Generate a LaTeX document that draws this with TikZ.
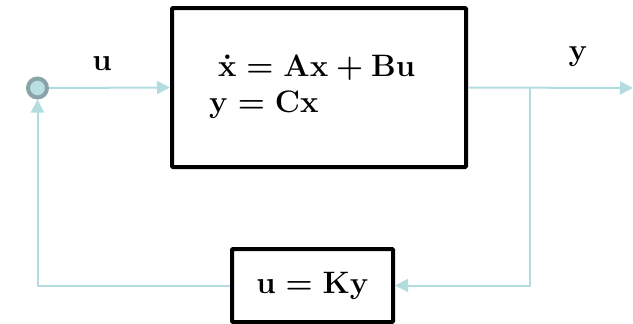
\RequirePackage{fix-cm}
\documentclass[tikz,border=0pt]{standalone}
\usetikzlibrary{arrows.meta}
\definecolor{wire}{HTML}{B2DCE0}
\definecolor{ring}{HTML}{8AA3A6}
\definecolor{ringfill}{HTML}{B8DFE2}
\begin{document}
\begin{tikzpicture}[x=1pt,y=-1pt,
  blockbox/.style={draw=black,line width=4pt,rounded corners=1pt,fill=white,inner sep=0pt},
  wireline/.style={draw=wire,line width=2pt,-{Triangle[length=13pt,width=13pt]}},
  eqtext/.style={font=\fontsize{31}{38}\selectfont\boldmath,inner sep=0pt},
  sumring/.style={circle,draw=ring,fill=ringfill,line width=4pt,minimum size=19pt,inner sep=0pt}]
\useasboundingbox (0,0) rectangle (633,324);
\node[blockbox,minimum width=294pt,minimum height=159pt] (plant) at (319,87.5) {};
\node[eqtext,anchor=base west] (eq1) at (218,76) {$\dot{\mathbf{x}}=\mathbf{Ax}+\mathbf{Bu}$};
\node[eqtext,anchor=base west] (eq2) at (209,112.5) {$\mathbf{y}=\mathbf{Cx}$};
\node[blockbox,minimum width=161pt,minimum height=73pt,eqtext] (ctrl) at (312.5,285.5) {$\mathbf{u}=\mathbf{Ky}$};
\node[sumring] (sum) at (37.5,88) {};
\node[eqtext] (ulab) at (102,64) {$\mathbf{u}$};
\node[eqtext] (ylab) at (578,56.5) {$\mathbf{y}$};
\coordinate (out) at (633,88);
\coordinate (branch) at (530,88);
\coordinate (brdown) at (530,285.5);
\coordinate (fbcorner) at (37.5,285.5);
\draw[wireline] (sum.east) -- (plant.west);
\draw[wireline] (plant.east) -- (out);
\draw[wireline] (branch) -- (brdown) -- (ctrl.east);
\draw[wireline] (ctrl.west) -- (fbcorner) -- (sum.south);
\end{tikzpicture}
\end{document}
